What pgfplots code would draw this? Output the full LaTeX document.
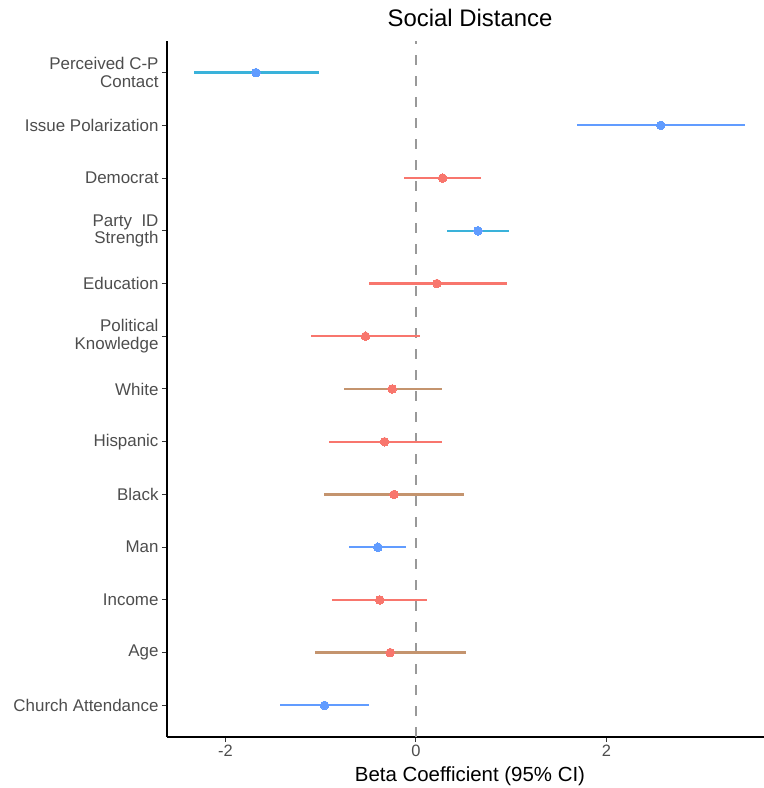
\documentclass[border=0pt]{standalone}
\usepackage{pgfplots}
\pgfplotsset{compat=1.18}
\usepackage{pgfplotstable}
\usepackage{fontspec}
\setmainfont{Liberation Sans}
\definecolor{gred}{HTML}{F8766D}
\definecolor{gblue}{HTML}{619CFF}
\definecolor{tealline}{HTML}{3AB2DA}
\definecolor{tanline}{HTML}{C4946E}
\definecolor{tickgray}{HTML}{4D4D4D}
\definecolor{axgray}{HTML}{333333}

% y: 13 = top row (Perceived C-P Contact) ... 1 = Church Attendance
\pgfplotstableread{
y est lo hi
12 2.57 1.69 3.45
4 -0.40 -0.70 -0.10
1 -0.96 -1.43 -0.49
}\bluerows
\pgfplotstableread{
y est lo hi
13 -1.68 -2.33 -1.02
10 0.65 0.33 0.98
}\tealrows
\pgfplotstableread{
y est lo hi
11 0.28 -0.13 0.68
9 0.22 -0.49 0.96
8 -0.53 -1.10 0.04
6 -0.33 -0.91 0.27
3 -0.38 -0.88 0.12
}\redrows
\pgfplotstableread{
y est lo hi
7 -0.25 -0.76 0.27
5 -0.23 -0.97 0.50
2 -0.27 -1.06 0.53
}\tanrows

\begin{document}
\begin{tikzpicture}
\path[use as bounding box] (-167bp,-51bp) rectangle (597bp,737bp);
\begin{axis}[
  at={(0,0)}, anchor=south west,
  scale only axis,
  width=597bp, height=696bp,
  xmin=-2.614, xmax=3.654,
  ymin=0.4, ymax=13.6,
  axis x line*=bottom, axis y line*=left,
  axis line style={-, line width=1.3bp, black},
  xtick={-2,0,2},
  xticklabels={-2,0,2},
  ytick={1,...,13},
  yticklabels={Church Attendance,Age,Income,Man,Black,Hispanic,White,{Political\\Knowledge},Education,{Party\ \ ID\\Strength},Democrat,Issue Polarization,{Perceived C-P\\Contact}},
  tick align=outside,
  major tick length=5bp,
  tick style={axgray, line width=1bp},
  xticklabel style={font=\fontsize{16.5}{18}\selectfont, text=tickgray},
  yticklabel style={font=\fontsize{17}{17.5}\selectfont, text=tickgray, align=right},
  clip=false,
]
% reference line at zero
\addplot[color=black!40, line width=1.5bp, dash pattern=on 10bp off 11bp] coordinates {(0,0.4) (0,13.6)};

% teal rows: teal CI lines, blue points
\addplot[color=tealline, only marks, mark=*, mark size=0.1bp,
  error bars/.cd, x dir=both, x explicit, error mark=none,
  error bar style={line width=2.4bp, color=tealline}]
  table[x=est, y=y, x error plus expr=\thisrow{hi}-\thisrow{est}, x error minus expr=\thisrow{est}-\thisrow{lo}] {\tealrows};
\addplot[color=gblue, only marks, mark=*, mark size=4.3bp, mark options={fill=gblue, draw=gblue, line width=0pt}]
  table[x=est, y=y] {\tealrows};

% tan rows: tan CI lines, red points
\addplot[color=tanline, only marks, mark=*, mark size=0.1bp,
  error bars/.cd, x dir=both, x explicit, error mark=none,
  error bar style={line width=2.4bp, color=tanline}]
  table[x=est, y=y, x error plus expr=\thisrow{hi}-\thisrow{est}, x error minus expr=\thisrow{est}-\thisrow{lo}] {\tanrows};
\addplot[color=gred, only marks, mark=*, mark size=4.3bp, mark options={fill=gred, draw=gred, line width=0pt}]
  table[x=est, y=y] {\tanrows};

% red rows
\addplot[color=gred, only marks, mark=*, mark size=4.3bp, mark options={fill=gred, draw=gred, line width=0pt},
  error bars/.cd, x dir=both, x explicit, error mark=none,
  error bar style={line width=2.2bp, color=gred}]
  table[x=est, y=y, x error plus expr=\thisrow{hi}-\thisrow{est}, x error minus expr=\thisrow{est}-\thisrow{lo}] {\redrows};

% blue rows
\addplot[color=gblue, only marks, mark=*, mark size=4.3bp, mark options={fill=gblue, draw=gblue, line width=0pt},
  error bars/.cd, x dir=both, x explicit, error mark=none,
  error bar style={line width=2.2bp, color=gblue}]
  table[x=est, y=y, x error plus expr=\thisrow{hi}-\thisrow{est}, x error minus expr=\thisrow{est}-\thisrow{lo}] {\bluerows};
\end{axis}
\node[font=\fontsize{24}{28}\selectfont] at (303bp,719bp) {Social Distance};
\node[font=\fontsize{20.5}{24}\selectfont] at (303bp,-39bp) {Beta Coefficient (95\% CI)};
\end{tikzpicture}
\end{document}
